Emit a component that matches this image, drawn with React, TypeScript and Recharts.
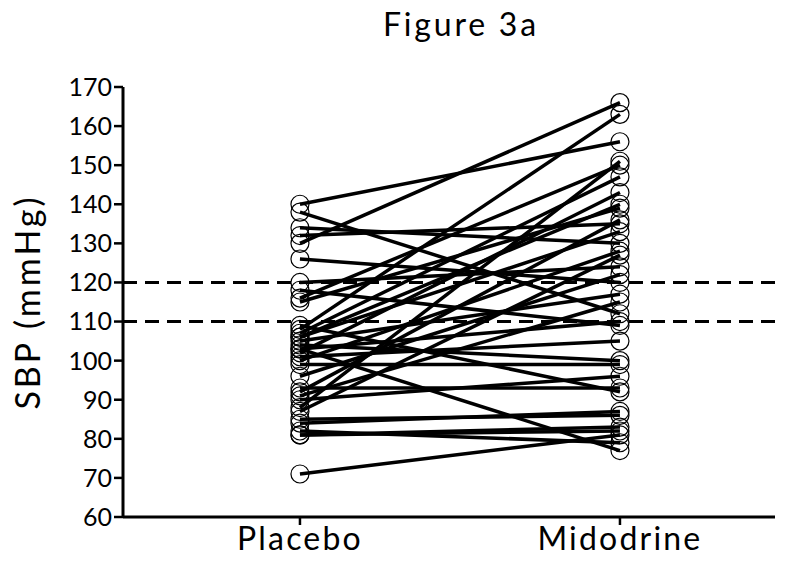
import React from "react";
import { LineChart, Line, XAxis, YAxis, ReferenceLine } from "recharts";

const categories = ["Placebo", "Midodrine"];
const placebo = [140, 138, 134, 132, 130, 126, 120, 118, 116, 115, 108, 107, 106, 105, 104, 103, 102, 101, 100, 99, 96, 93, 92, 91, 90, 88, 87, 85, 84, 82, 81, 81, 103, 71, 109, 106];
const midodrine = [156, 112, 130, 135, 166, 120, 124, 109, 150, 139, 163, 147, 133, 117, 100, 110, 143, 105, 128, 99, 122, 93, 136, 115, 96, 151, 127, 86, 87, 79, 83, 82, 77, 81, 92, 140];
const yTicks = [60, 70, 80, 90, 100, 110, 120, 130, 140, 150, 160, 170];
const thresholds = [120, 110];

const FONT = "Lato, 'Open Sans', sans-serif";

export default function App() {
  const subjects = placebo.map((p, i) => [
    { x: 0, y: p },
    { x: 1, y: midodrine[i] },
  ]);
  return (
    <div style={{ position: "absolute", left: 0, top: 0, width: 788, height: 574, background: "#fff" }}>
      <div
        style={{
          position: "absolute",
          left: 383,
          top: 4,
          fontFamily: FONT,
          fontSize: 32,
          letterSpacing: 2.8,
          whiteSpace: "nowrap",
        }}
      >
        Figure 3a
      </div>
      <LineChart width={788} height={574} margin={{ top: 87, right: 13, bottom: 0, left: 0 }}>
        <XAxis
          type="number"
          dataKey="x"
          domain={[-0.553, 1.4845]}
          ticks={[0, 1]}
          tickFormatter={(v: number) => categories[v]}
          height={57}
          axisLine={{ stroke: "#000", strokeWidth: 3 }}
          tickLine={{ stroke: "#000", strokeWidth: 2.5 }}
          tickSize={8}
          tick={{ fill: "#000", fontSize: 32, fontFamily: FONT, letterSpacing: 2.2 }}
          allowDataOverflow
        />
        <YAxis
          type="number"
          domain={[60, 170]}
          ticks={yTicks}
          width={123}
          axisLine={{ stroke: "#000", strokeWidth: 3 }}
          tickLine={{ stroke: "#000", strokeWidth: 2.5 }}
          tickSize={9}
          tick={{ fill: "#000", fontSize: 25, fontFamily: FONT }}
          interval={0}
          label={{
            value: "SBP (mmHg)",
            angle: -90,
            position: "insideLeft",
            offset: 28,
            style: { fill: "#000", fontSize: 34, fontFamily: FONT, textAnchor: "middle", letterSpacing: 3 },
          }}
        />
        {thresholds.map((t) => (
          <ReferenceLine key={t} y={t} stroke="#000" strokeWidth={3} strokeDasharray="14 8" />
        ))}
        {subjects.map((d, i) => (
          <Line
            key={i}
            data={d}
            dataKey="y"
            stroke="#000"
            strokeWidth={3.5}
            isAnimationActive={false}
            dot={{ r: 9, fill: "none", stroke: "#000", strokeWidth: 1.2 }}
            activeDot={false}
          />
        ))}
      </LineChart>
    </div>
  );
}
